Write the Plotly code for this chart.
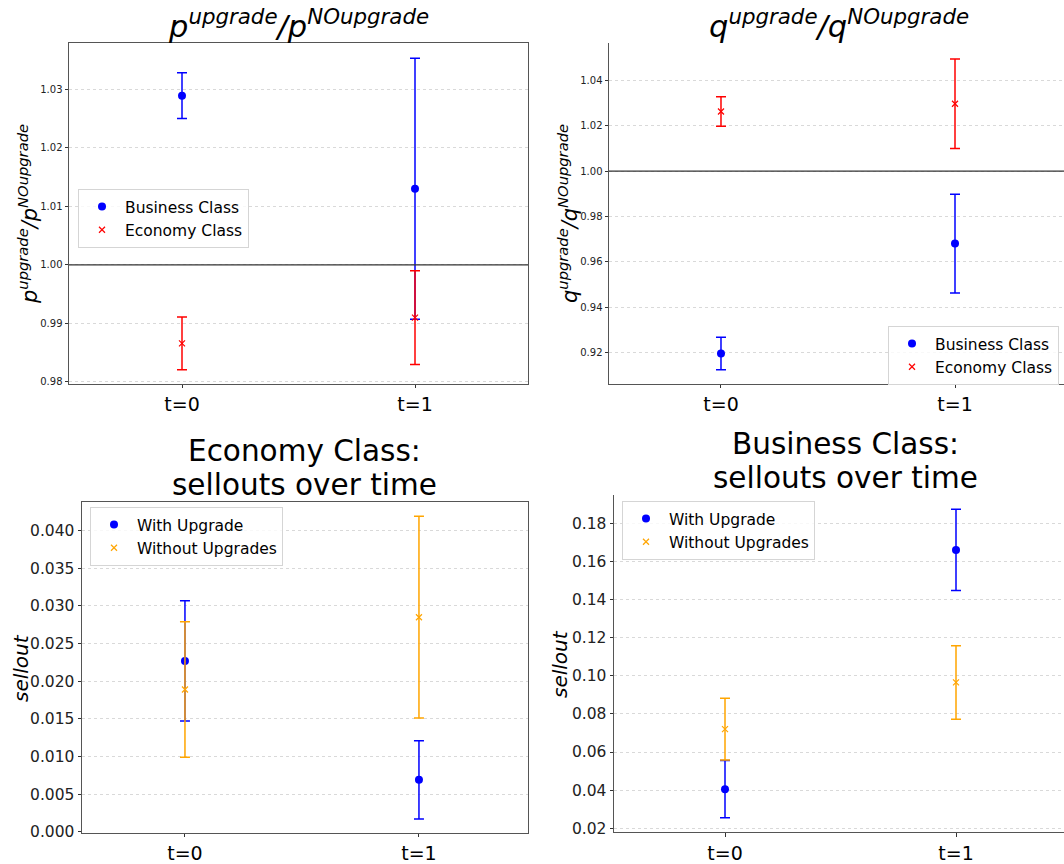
import plotly.graph_objects as go

# ---- data -------------------------------------------------------------
periods = [0, 1]
period_labels = ["t=0", "t=1"]

# price ratio p_upgrade / p_NOupgrade
p_business = [1.0289, 1.0130]
p_business_err = [0.0039, 0.0223]
p_economy = [0.9866, 0.9910]
p_economy_err = [0.0045, 0.0080]

# quantity ratio q_upgrade / q_NOupgrade
q_business = [0.9195, 0.9680]
q_business_err = [0.0072, 0.0218]
q_economy = [1.0263, 1.0297]
q_economy_err = [0.0065, 0.0197]

# Economy class sellouts
eco_with = [0.0227, 0.0069]
eco_with_err = [0.0080, 0.0052]
eco_without = [0.0189, 0.0285]
eco_without_err = [0.0090, 0.0134]

# Business class sellouts
bus_with = [0.0405, 0.1660]
bus_with_err = [0.0150, 0.0213]
bus_without = [0.0720, 0.0965]
bus_without_err = [0.0162, 0.0193]

BLUE = "#0000ff"
RED = "#ff0000"
ORANGE = "#ffa500"
FONT = "DejaVu Sans"
W, H = 1064, 864


def px_x(px):
    return px / W


def px_y(py):
    return 1 - py / H


def series(x, y, err, name, color, symbol, xa, ya, legend):
    is_dot = symbol == "circle"
    return go.Scatter(
        x=x, y=y, name=name, mode="markers",
        xaxis=xa, yaxis=ya, legend=legend,
        marker=dict(color=color, symbol=symbol, size=8 if is_dot else 6,
                    line=dict(width=0) if is_dot else dict(width=1.2, color=color)),
        error_y=dict(type="data", array=err, visible=True,
                     color=color, thickness=1.5, width=5),
    )


fig = go.Figure()

# top-left: price ratio
fig.add_trace(series(periods, p_business, p_business_err, "Business Class", BLUE, "circle", "x", "y", "legend"))
fig.add_trace(series(periods, p_economy, p_economy_err, "Economy Class", RED, "x-thin", "x", "y", "legend"))
# top-right: quantity ratio
fig.add_trace(series(periods, q_business, q_business_err, "Business Class", BLUE, "circle", "x2", "y2", "legend2"))
fig.add_trace(series(periods, q_economy, q_economy_err, "Economy Class", RED, "x-thin", "x2", "y2", "legend2"))
# bottom-left: economy sellouts
fig.add_trace(series(periods, eco_with, eco_with_err, "With Upgrade", BLUE, "circle", "x3", "y3", "legend3"))
fig.add_trace(series(periods, eco_without, eco_without_err, "Without Upgrades", ORANGE, "x-thin", "x3", "y3", "legend3"))
# bottom-right: business sellouts
fig.add_trace(series(periods, bus_with, bus_with_err, "With Upgrade", BLUE, "circle", "x4", "y4", "legend4"))
fig.add_trace(series(periods, bus_without, bus_without_err, "Without Upgrades", ORANGE, "x-thin", "x4", "y4", "legend4"))

axis_common = dict(showline=True, linecolor="#555", linewidth=1, mirror=True,
                   ticks="outside", ticklen=3.5, tickcolor="#333", zeroline=False,
                   automargin=False)


def xaxis(domain, rng, anchor):
    return dict(domain=domain, range=rng, anchor=anchor, tickvals=periods,
                ticktext=period_labels, showgrid=False,
                tickfont=dict(size=19, color="black", family=FONT), **axis_common)


def yaxis(domain, rng, anchor, dtick, fmt, size):
    return dict(domain=domain, range=rng, anchor=anchor, dtick=dtick, tickformat=fmt,
                showgrid=True, gridcolor="#d9d9d9", griddash="dot", gridwidth=0.8,
                tickfont=dict(size=size, color="#222", family=FONT), **axis_common)


top_dom = [px_y(383.7), px_y(43)]
bot_dom_l = [px_y(832.7), px_y(502)]
bot_dom_r = [px_y(832.3), px_y(495)]

fig.update_layout(
    width=W, height=H,
    margin=dict(l=0, r=0, t=0, b=0, autoexpand=False),
    paper_bgcolor="white", plot_bgcolor="white",
    font=dict(family=FONT, color="black"),
    xaxis=xaxis([px_x(69), px_x(528)], [-0.485, 1.485], "y"),
    yaxis=yaxis(top_dom, [0.9797, 1.0379], "x", 0.01, ".2f", 10),
    xaxis2=xaxis([px_x(609), 1.0], [-0.4786, 1.4658], "y2"),
    yaxis2=yaxis(top_dom, [0.9062, 1.0565], "x2", 0.02, ".2f", 10),
    xaxis3=xaxis([px_x(82), px_x(528)], [-0.440, 1.466], "y3"),
    yaxis3=yaxis(bot_dom_l, [-0.00013, 0.04381], "x3", 0.005, ".3f", 15.5),
    xaxis4=xaxis([px_x(614), 1.0], [-0.4805, 1.4675], "y4"),
    yaxis4=yaxis(bot_dom_r, [0.0179, 0.1948], "x4", 0.02, ".2f", 15.5),
)
fig.layout.xaxis2.mirror = False
fig.layout.xaxis4.mirror = False

legend_style = dict(bgcolor="rgba(255,255,255,0.8)", bordercolor="#d5d5d5", borderwidth=1,
                    xanchor="left", yanchor="top", itemsizing="trace",
                    tracegroupgap=0, itemwidth=36)
fig.update_layout(
    legend=dict(x=px_x(78), y=px_y(189), font=dict(size=15.5, family=FONT), **legend_style),
    legend2=dict(x=px_x(888), y=px_y(326), font=dict(size=15.5, family=FONT), **legend_style),
    legend3=dict(x=px_x(90), y=px_y(507), font=dict(size=15.5, family=FONT), **legend_style),
    legend4=dict(x=px_x(622), y=px_y(501), font=dict(size=15.5, family=FONT), **legend_style),
)

# reference line at ratio = 1
for ya, xa in (("y", "x"), ("y2", "x2")):
    fig.add_shape(type="line", xref=f"{xa} domain", yref=ya, x0=0, x1=1, y0=1.0, y1=1.0,
                  line=dict(color="#333", width=1.3))

p_title = "<i>p</i><sup><i>upgrade</i></sup><i>/p</i><sup><i>NOupgrade</i></sup>"
q_title = "<i>q</i><sup><i>upgrade</i></sup><i>/q</i><sup><i>NOupgrade</i></sup>"

annotations = [
    dict(text=p_title, x=px_x(298), y=px_y(24), size=30.5),
    dict(text=q_title, x=px_x(839), y=px_y(24), size=30.5),
    dict(text="Economy Class:", x=px_x(304), y=px_y(451), size=29.5),
    dict(text="sellouts over time", x=px_x(304), y=px_y(485), size=29.5),
    dict(text="Business Class:", x=px_x(845), y=px_y(444), size=29.5),
    dict(text="sellouts over time", x=px_x(845), y=px_y(478), size=29.5),
    dict(text=p_title, x=px_x(28), y=px_y(214), size=21, textangle=-90),
    dict(text=q_title, x=px_x(568), y=px_y(214), size=21, textangle=-90),
    dict(text="<i>sellout</i>", x=px_x(21), y=px_y(668), size=20, textangle=-90),
    dict(text="<i>sellout</i>", x=px_x(560), y=px_y(664), size=20, textangle=-90),
]
for a in annotations:
    fig.add_annotation(xref="paper", yref="paper", showarrow=False,
                       xanchor="center", yanchor="middle",
                       text=a["text"], x=a["x"], y=a["y"],
                       textangle=a.get("textangle", 0),
                       font=dict(family=FONT, color="black", size=a["size"]))

fig.write_html("out.html")
